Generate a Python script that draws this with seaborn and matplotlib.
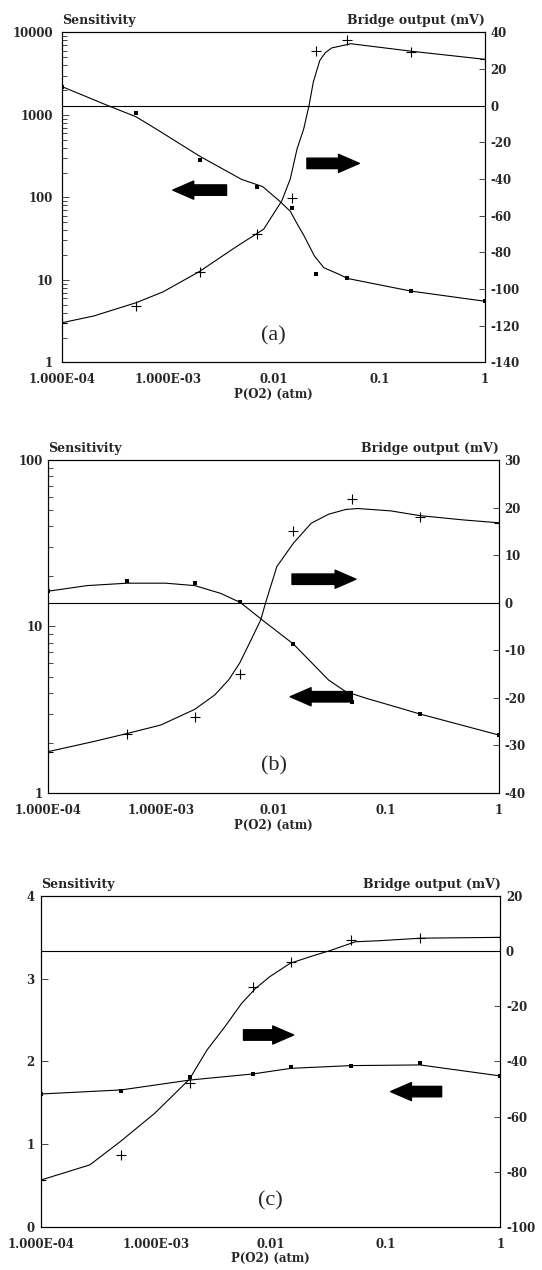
import matplotlib
matplotlib.use("Agg")
import matplotlib.pyplot as plt
import seaborn as sns
from matplotlib.ticker import LogLocator, NullFormatter

# ---- panel (a) ----
p_a = [1e-4, 5e-4, 2e-3, 7e-3, 0.015, 0.025, 0.05, 0.2, 1]
sens_a = [2200, 1060, 283, 135, 75, 11.9, 10.4, 7.3, 5.5]
bridge_a = [-118.4, -109.5, -90.7, -69.8, -50.4, 29.6, 35.6, 29.3, 25.3]
sens_fit_p_a = [1e-4, 2.7e-4, 5e-4, 8.3e-4, 2e-3, 5e-3, 7.9e-3, 0.0112, 0.0144,
                0.0167, 0.0195, 0.0244, 0.030, 0.0415, 0.05, 0.2, 1]
sens_fit_a = [2200, 1300, 950, 640, 316, 165, 135, 92, 68, 48, 34, 19.4, 14,
              11.7, 10.4, 7.3, 5.5]
bridge_fit_p_a = [1e-4, 2e-4, 5e-4, 9e-4, 2e-3, 4.4e-3, 8.1e-3, 0.012, 0.0144,
                  0.0167, 0.0193, 0.0217, 0.0238, 0.0274, 0.031, 0.0355, 0.054,
                  0.21, 1]
bridge_fit_a = [-118.4, -114.7, -107.5, -101.6, -90.4, -77.1, -67.3, -51.8, -40,
                -23.6, -12.7, 0.2, 12.9, 24.7, 29.0, 31.5, 33.8, 29.6, 25.3]

# ---- panel (b) ----
p_b = [1e-4, 5e-4, 2e-3, 5e-3, 0.015, 0.05, 0.2, 1]
sens_b = [16.3, 18.8, 18.2, 14.1, 7.85, 3.5, 2.98, 2.23]
bridge_b = [-31.3, -27.7, -24.0, -15.0, 15.1, 21.8, 18.1, 16.8]
sens_fit_p_b = [1e-4, 2.2e-4, 5e-4, 1.1e-3, 2e-3, 3.4e-3, 5.1e-3, 8e-3, 0.015,
                0.0308, 0.0438, 0.067, 0.136, 0.2, 1]
sens_fit_b = [16.3, 17.6, 18.2, 18.2, 17.6, 15.8, 13.9, 10.9, 7.85, 4.77, 4.06,
              3.7, 3.22, 2.98, 2.23]
bridge_fit_p_b = [1e-4, 2.5e-4, 5e-4, 1e-3, 2e-3, 3e-3, 4e-3, 5e-3, 6.2e-3,
                  7.7e-3, 8.5e-3, 0.0107, 0.015, 0.0216, 0.0308, 0.0438, 0.056,
                  0.11, 0.2, 0.486, 1]
bridge_fit_b = [-31.3, -29.2, -27.5, -25.7, -22.4, -19.4, -16.2, -12.7, -8.2,
                -3.6, 0, 7.6, 12.5, 16.7, 18.6, 19.6, 19.8, 19.3, 18.3, 17.4, 16.8]

# ---- panel (c) ----
p_c = [1e-4, 5e-4, 2e-3, 7e-3, 0.015, 0.05, 0.2, 1]
sens_c = [1.607, 1.647, 1.81, 1.849, 1.93, 1.95, 1.98, 1.825]
bridge_c = [-83.0, -73.9, -47.9, -12.9, -3.8, 4.05, 4.9, 5.0]
sens_fit_c = [1.607, 1.656, 1.776, 1.849, 1.917, 1.95, 1.958, 1.825]
bridge_fit_p_c = [1e-4, 2.67e-4, 4.9e-4, 9.8e-4, 1.96e-3, 2.8e-3, 4e-3, 5.6e-3,
                  7.4e-3, 9.8e-3, 0.0148, 0.0225, 0.034, 0.0546, 0.0898, 0.203, 1]
bridge_fit_c = [-83.0, -77.5, -69.1, -58.8, -46.5, -35.8, -27.4, -18.9, -13.5,
                -9.3, -4.4, -1.9, 0.4, 3.4, 3.8, 4.7, 5.0]

x_ticks = [1e-4, 1e-3, 1e-2, 0.1, 1]
x_labels = ["1.000E-04", "1.000E-03", "0.01", "0.1", "1"]

sns.set_style("white")
plt.rcParams["font.family"] = ["DejaVu Serif"]
plt.rcParams["font.weight"] = "bold"
plt.rcParams["axes.unicode_minus"] = False
plt.rcParams["axes.linewidth"] = 0.8

fig = plt.figure(figsize=(5.42, 12.7), dpi=100)


def arrow(ax, x_tail, x_tip, y):
    ax.annotate("", xy=(x_tip, y), xytext=(x_tail, y), xycoords="axes fraction",
                arrowprops=dict(arrowstyle="simple,head_length=1.5,head_width=1.3,tail_width=0.75",
                                color="black", shrinkA=0, shrinkB=0, mutation_scale=10))


def panel(rect, tag, sp, sy, bp, by, sfp, sfy, bfp, bfy,
          ylim, yticks, logy, ylim2, yticks2, lpad, arrows):
    ax = fig.add_axes(rect)
    ax2 = ax.twinx()
    ax.set_xscale("log")
    if logy:
        ax.set_yscale("log")

    # sensitivity on the left axis, bridge output on the right one
    sns.lineplot(x=sfp, y=sfy, ax=ax, color="black", lw=0.8, estimator=None, sort=False)
    sns.scatterplot(x=sp, y=sy, ax=ax, color="black", marker="s", s=7, linewidth=0)
    ax2.axhline(0, color="black", lw=0.8)
    sns.lineplot(x=bfp, y=bfy, ax=ax2, color="black", lw=0.8, estimator=None, sort=False)
    sns.scatterplot(x=bp, y=by, ax=ax2, color="black", marker="+", s=55, linewidth=0.8)

    ax.set_xlim(1e-4, 1)
    ax.set_ylim(*ylim)
    ax2.set_ylim(*ylim2)
    ax.set_xticks(x_ticks)
    ax.set_xticklabels(x_labels)
    ax.xaxis.set_minor_locator(LogLocator(base=10, subs=range(2, 10)))
    ax.xaxis.set_minor_formatter(NullFormatter())
    ax.set_yticks(yticks)
    ax.set_yticklabels([str(t) for t in yticks])
    if logy:
        ax.yaxis.set_minor_locator(LogLocator(base=10, subs=range(2, 10)))
        ax.yaxis.set_minor_formatter(NullFormatter())
    ax2.set_yticks(yticks2)
    ax2.set_yticklabels([str(t) for t in yticks2])

    ax.tick_params(axis="x", which="both", direction="in", top=False, pad=8,
                   labelsize=8.5, width=0.6)
    ax.tick_params(axis="y", which="both", direction="in", right=False, pad=lpad,
                   labelsize=8.5, width=0.6)
    ax.tick_params(which="major", length=5)
    ax.tick_params(which="minor", length=3.5)
    ax2.tick_params(axis="y", direction="in", pad=4, labelsize=8.5, width=0.6, length=4)

    ax.set_xlabel("P(O2) (atm)", fontsize=8.5, fontweight="bold", labelpad=1)
    ax.set_ylabel("")
    ax2.set_ylabel("")
    for spine in list(ax.spines.values()) + list(ax2.spines.values()):
        spine.set_linewidth(0.8)
        spine.set_color("black")

    ax.annotate("Sensitivity", xy=(0, 1), xycoords="axes fraction", xytext=(0, 6),
                textcoords="offset points", ha="left", va="baseline",
                fontsize=9, fontweight="bold")
    ax.annotate("Bridge output (mV)", xy=(1, 1), xycoords="axes fraction",
                xytext=(0, 6), textcoords="offset points", ha="right",
                va="baseline", fontsize=9, fontweight="bold")
    ax2.text(0.5, 0.08, tag, transform=ax2.transAxes, ha="center", va="center",
             fontsize=16, fontweight="normal", family=["Liberation Serif"])
    for a in arrows:
        arrow(ax2, *a)


panel([0.1144, 0.7147, 0.7804, 0.2598], "(a)", p_a, sens_a, p_a, bridge_a,
      sens_fit_p_a, sens_fit_a, bridge_fit_p_a, bridge_fit_a,
      (1, 10000), [1, 10, 100, 1000, 10000], True,
      (-140, 40), list(range(-140, 41, 20)), 6.5,
      [(0.389, 0.262, 0.522), (0.579, 0.703, 0.603)])

panel([0.0893, 0.3756, 0.8308, 0.2622], "(b)", p_b, sens_b, p_b, bridge_b,
      sens_fit_p_b, sens_fit_b, bridge_fit_p_b, bridge_fit_b,
      (1, 100), [1, 10, 100], True,
      (-40, 30), list(range(-40, 31, 10)), 4,
      [(0.541, 0.683, 0.642), (0.675, 0.537, 0.289)])

panel([0.0753, 0.0339, 0.848, 0.2606], "(c)", p_c, sens_c, p_c, bridge_c,
      p_c, sens_fit_c, bridge_fit_p_c, bridge_fit_c,
      (0, 4), [0, 1, 2, 3, 4], False,
      (-100, 20), list(range(-100, 21, 20)), 4.5,
      [(0.441, 0.550, 0.58), (0.872, 0.761, 0.409)])

fig.savefig("out.png", dpi=100)
